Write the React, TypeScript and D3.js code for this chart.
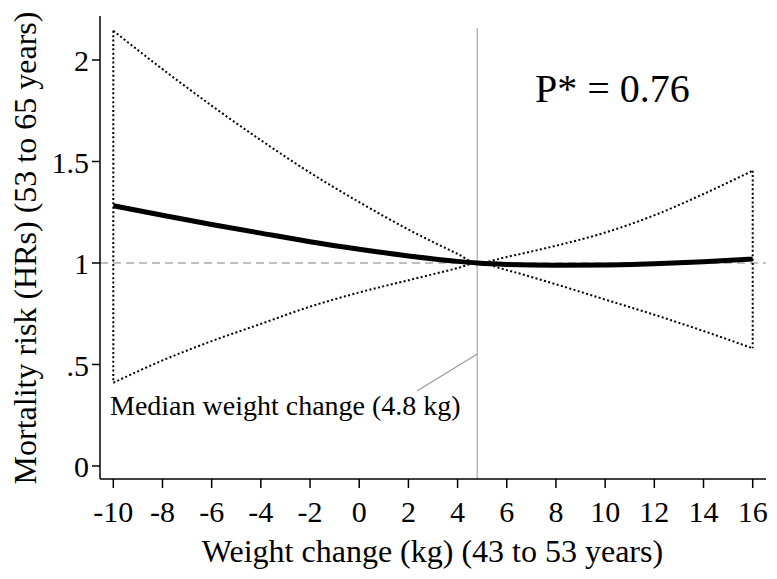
import React from "react";
import * as d3 from "d3";

const weightGrid = [-10, -8, -6, -4, -2, 0, 2, 4, 4.8, 6, 8, 10, 12, 14, 16];
const hrEstimate = [1.282, 1.235, 1.19, 1.147, 1.105, 1.068, 1.035, 1.008, 1.0, 0.993, 0.989, 0.99, 0.996, 1.006, 1.02];
const hrUpper = [2.144, 1.955, 1.775, 1.605, 1.445, 1.3, 1.165, 1.045, 1.0, 1.03, 1.085, 1.15, 1.235, 1.34, 1.455];
const hrLower = [0.41, 0.52, 0.615, 0.7, 0.785, 0.855, 0.915, 0.975, 1.0, 0.965, 0.895, 0.82, 0.745, 0.665, 0.58];
const xTicks = [-10, -8, -6, -4, -2, 0, 2, 4, 6, 8, 10, 12, 14, 16];
const yTicks = [0, 0.5, 1, 1.5, 2];
const yTickLabels = ["0", ".5", "1", "1.5", "2"];
const medianWeight = 4.8;
const pText = "P* = 0.76";
const xTitle = "Weight change (kg) (43 to 53 years)";
const yTitle = "Mortality risk (HRs) (53 to 65 years)";
const medianLabel = "Median weight change (4.8 kg)";

const W = 777;
const H = 579;
const FONT = "'Liberation Serif', 'Times New Roman', serif";

export default function App() {
  const x = d3.scaleLinear().domain([-10, 16]).range([113.3, 752.7]);
  const y = d3.scaleLinear().domain([0, 1]).range([466, 263]);
  const left = 100;
  const right = 766;
  const top = 16;
  const bottom = 479;

  const mk = (vals: number[]) =>
    d3
      .line<number>()
      .x((_, i) => x(weightGrid[i]))
      .y((d) => y(d))
      .curve(d3.curveMonotoneX)(vals) as string;

  const dotted = { fill: "none", stroke: "#000", strokeWidth: 2, strokeDasharray: "2 2.4" };

  return (
    <svg width={W} height={H} style={{ position: "absolute", left: 0, top: 0, background: "#fff" }} fontFamily={FONT}>
      <rect x={0} y={0} width={W} height={H} fill="#fff" />
      <line x1={left} x2={right} y1={y(1)} y2={y(1)} stroke="#aaa" strokeWidth={1.5} strokeDasharray="8 5" />
      <line x1={x(medianWeight)} x2={x(medianWeight)} y1={28} y2={bottom} stroke="#bbb" strokeWidth={1.5} />
      <line x1={417} y1={391} x2={x(medianWeight)} y2={354} stroke="#999" strokeWidth={1.2} />
      <path d={mk(hrUpper)} {...dotted} />
      <path d={mk(hrLower)} {...dotted} />
      <line x1={x(-10)} x2={x(-10)} y1={y(hrUpper[0])} y2={y(hrLower[0])} {...dotted} />
      <line
        x1={x(16)}
        x2={x(16)}
        y1={y(hrUpper[hrUpper.length - 1])}
        y2={y(hrLower[hrLower.length - 1])}
        {...dotted}
      />
      <path d={mk(hrEstimate)} fill="none" stroke="#000" strokeWidth={5} />
      <line x1={left} x2={left} y1={top} y2={bottom} stroke="#000" strokeWidth={1.5} />
      <line x1={left} x2={right} y1={bottom} y2={bottom} stroke="#000" strokeWidth={1.5} />
      {yTicks.map((t, i) => (
        <g key={"y" + t}>
          <line x1={left - 8} x2={left} y1={y(t)} y2={y(t)} stroke="#000" strokeWidth={1.5} />
          <text x={89} y={y(t) + 11} textAnchor="end" fontSize={30}>
            {yTickLabels[i]}
          </text>
        </g>
      ))}
      {xTicks.map((t) => (
        <g key={"x" + t}>
          <line x1={x(t)} x2={x(t)} y1={bottom} y2={bottom + 9} stroke="#000" strokeWidth={1.5} />
          <text x={x(t)} y={521.7} textAnchor="middle" fontSize={30}>
            {t}
          </text>
        </g>
      ))}
      <text x={(198 + 667) / 2} y={561.7} textAnchor="middle" fontSize={32}>
        {xTitle}
      </text>
      <text transform={`translate(36,248) rotate(-90)`} textAnchor="middle" fontSize={32}>
        {yTitle}
      </text>
      <text x={535} y={101.7} fontSize={40}>
        {pText}
      </text>
      <text x={110} y={415} fontSize={28}>
        {medianLabel}
      </text>
    </svg>
  );
}
